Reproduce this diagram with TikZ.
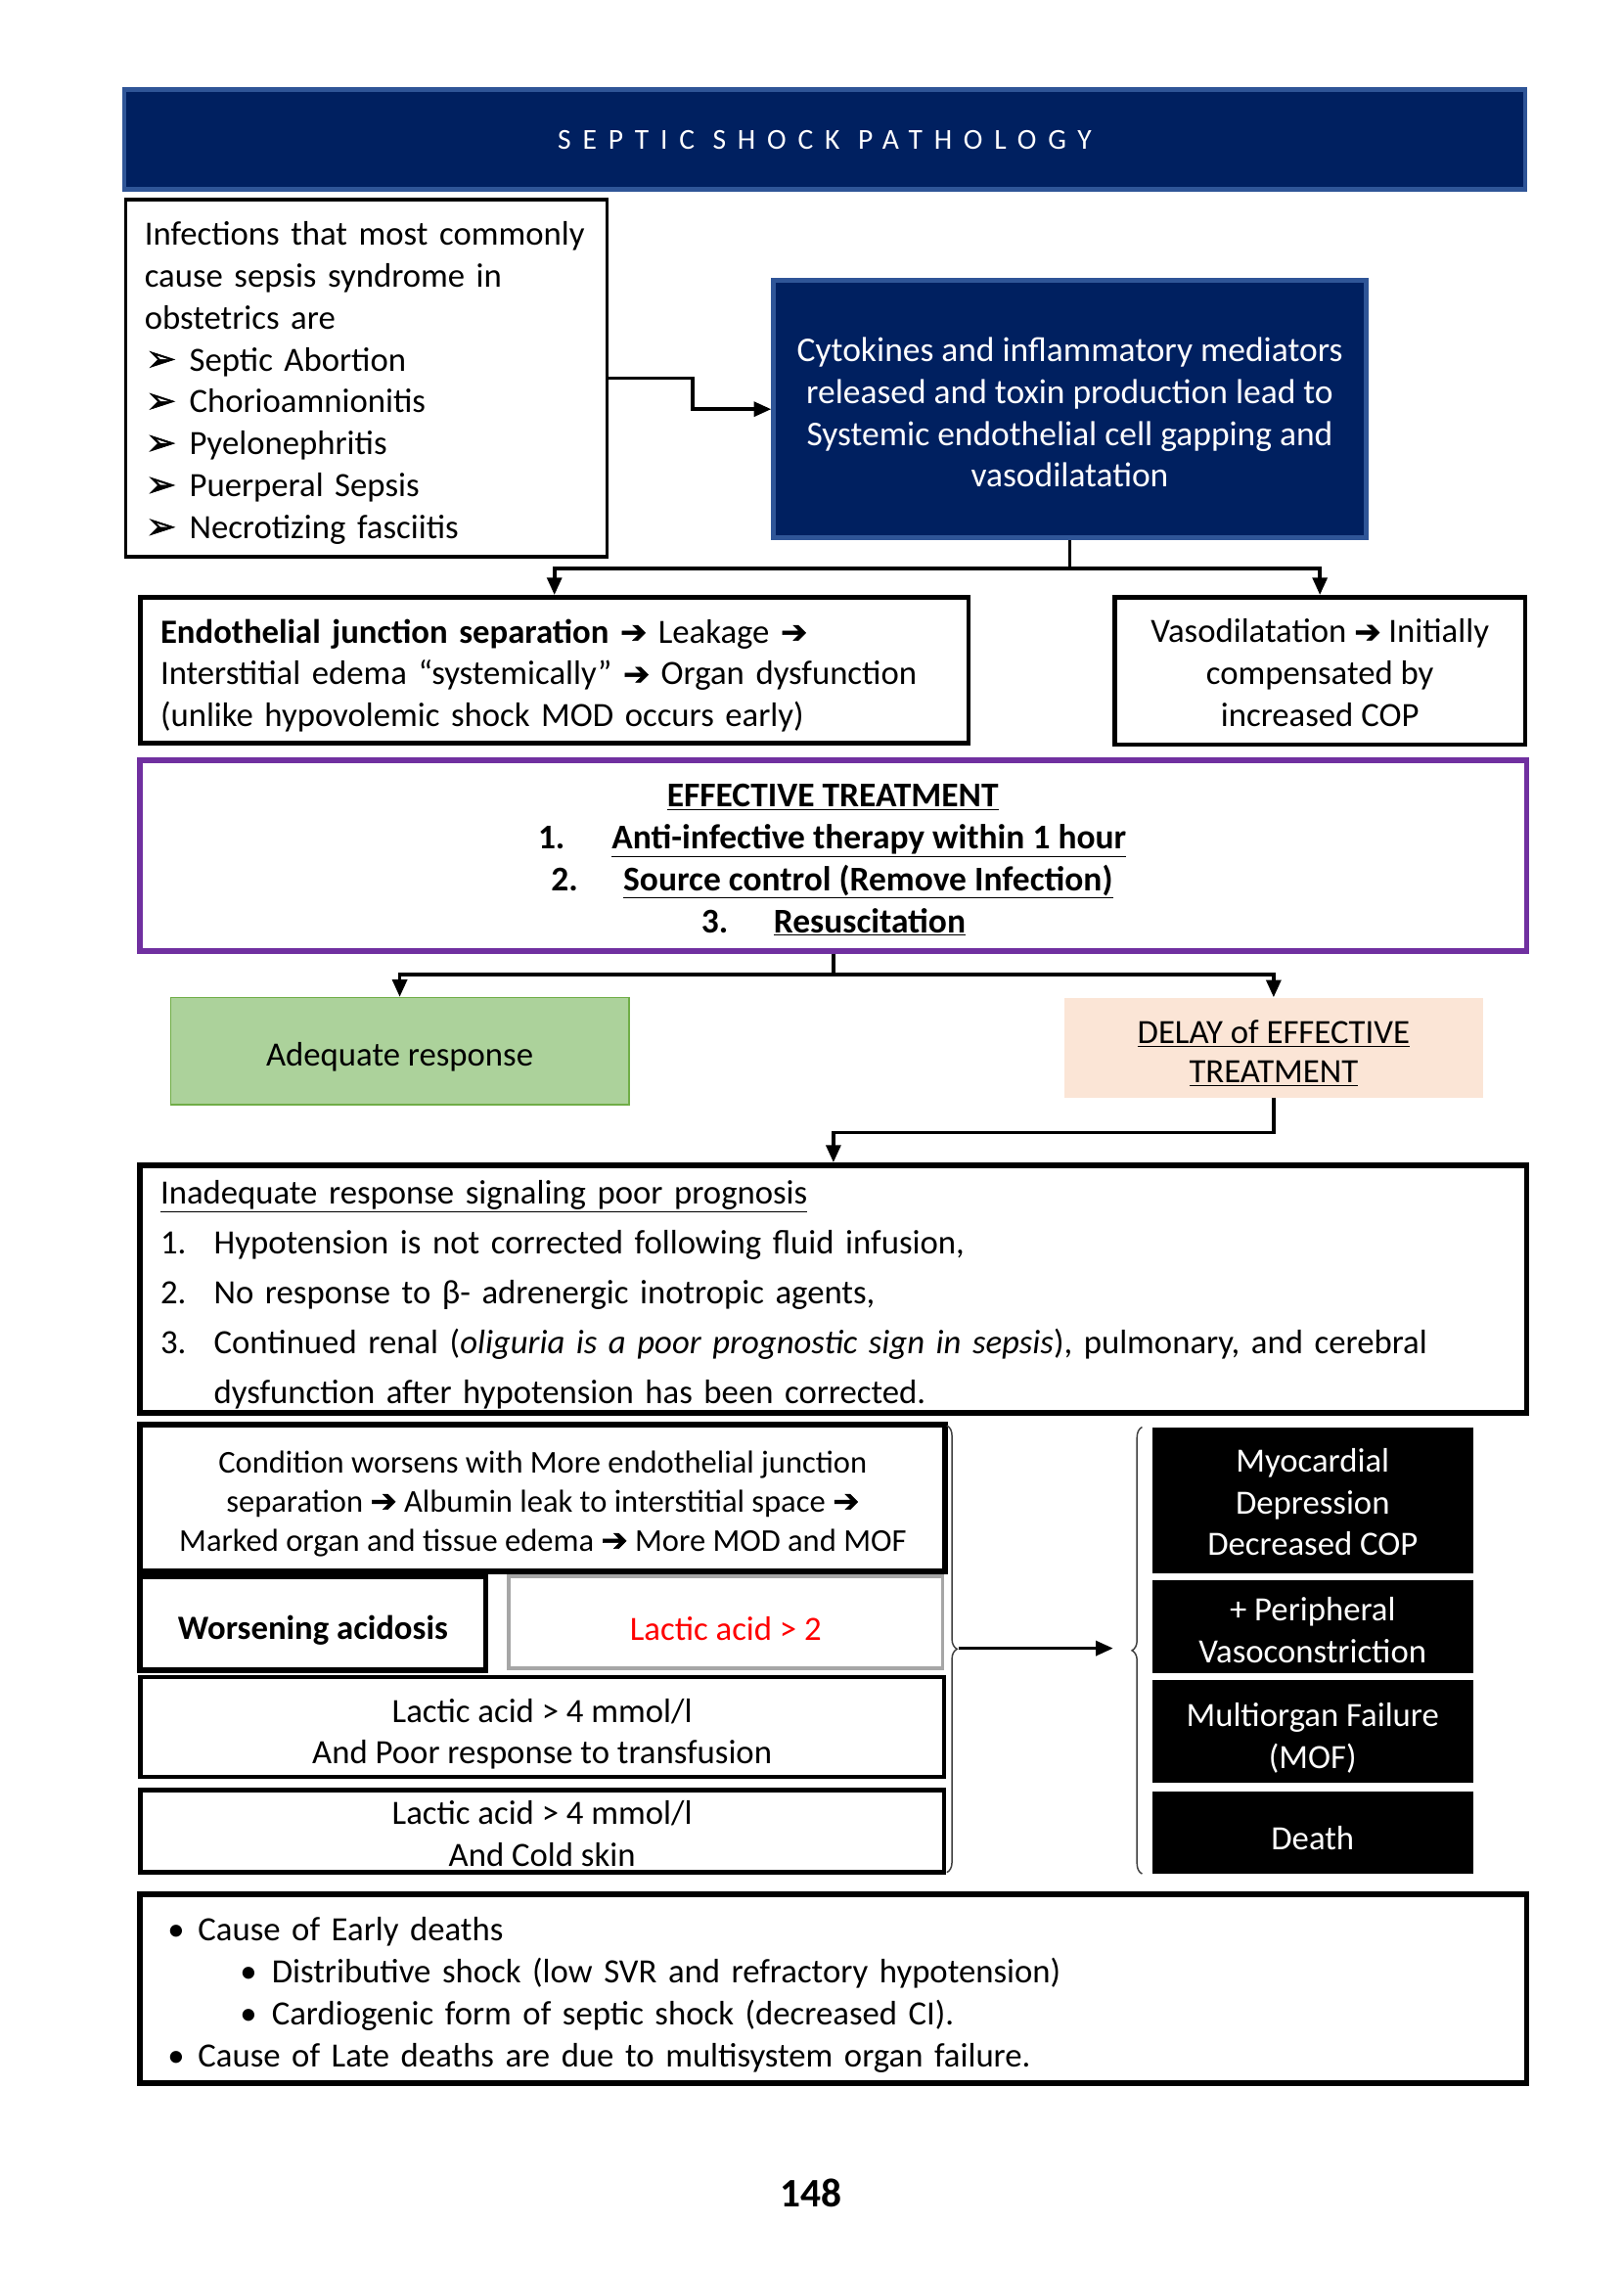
\documentclass[tikz,border=0pt]{standalone}
\usepackage{fontspec}
\setmainfont{Carlito}
\newfontfamily\symf{DejaVu Sans}
\newfontfamily\symfb[FakeBold=1.5]{DejaVu Sans}
\newfontfamily\titlef[LetterSpace=40]{Carlito}
\usetikzlibrary{arrows.meta,decorations.pathreplacing,calc}
\definecolor{navy}{HTML}{002060}
\definecolor{navyedge}{HTML}{2F5597}
\definecolor{purp}{HTML}{7030A0}
\definecolor{grn}{HTML}{ACD29B}
\definecolor{grnedge}{HTML}{70AD47}
\definecolor{peach}{HTML}{FBE5D6}
\definecolor{gry}{HTML}{A6A6A6}
\definecolor{redtxt}{HTML}{FF0000}
\newcommand{\myarr}{{\symfb\fontsize{22}{20}\selectfont\char"2794}}
\newcommand{\mybul}{\makebox[31pt][l]{\hspace{1pt}{\symfb\fontsize{25}{20}\selectfont\char"27A2}}}
\newcommand{\upr}[1]{\rule{0pt}{#1pt}}
\begin{document}
\begin{tikzpicture}[x=1pt,y=-1pt,
  every node/.style={font=\fontsize{23.5}{29}\selectfont},
  box/.style={draw=black,line width=3pt,inner sep=0pt},
  navybox/.style={draw=navyedge,fill=navy,line width=3pt,inner sep=0pt,text=white},
  blackbox/.style={fill=black,inner sep=0pt,text=white,minimum width=222pt,align=center},
  arr/.style={line width=2.5pt,-{Triangle[length=12pt,width=10pt]}},
  ln/.style={line width=2.5pt},
  brc/.style={decorate,decoration={brace,amplitude=7pt},line width=1pt,draw=black!75}]
\useasboundingbox[fill=white] (0,0) rectangle (1123,1570);

% title
\node[navybox,minimum width=969pt,minimum height=69pt,font=\titlef\fontsize{20}{22}\selectfont] (title) at (570.5,96.5) {SEPTIC SHOCK PATHOLOGY};

% infections
\node[box,line width=2.5pt,minimum width=333pt,minimum height=247pt,text width=307pt,align=left] (inf) at (253.5,261.5)
 {\upr{23}Infections that most commonly\\cause sepsis syndrome in\\obstetrics are\\\mybul Septic Abortion\\\mybul Chorioamnionitis\\\mybul Pyelonephritis\\\mybul Puerperal Sepsis\\\mybul Necrotizing fasciitis};

% cytokines
\node[navybox,minimum width=410pt,minimum height=178pt,align=center,font=\fontsize{24}{29}\selectfont] (cyto) at (740,283)
 {\upr{21}Cytokines and inflammatory mediators\\released and toxin production lead to\\Systemic endothelial cell gapping and\\vasodilatation};

% endothelial
\node[box,minimum width=573pt,minimum height=101pt,text width=545pt,align=left] (endo) at (383.5,463.5)
 {\upr{24}\textbf{Endothelial junction separation} \myarr{} Leakage \myarr\\Interstitial edema “systemically” \myarr{} Organ dysfunction\\(unlike hypovolemic shock MOD occurs early)};

% vasodilatation
\node[box,minimum width=284pt,minimum height=102pt,align=center] (vaso) at (913,464)
 {\upr{19}Vasodilatation \myarr{} Initially\\compensated by\\increased COP};

% effective treatment
\node[box,draw=purp,line width=4pt,minimum width=959pt,minimum height=132pt] (treat) at (576.5,592) {};
\node[inner sep=0pt,anchor=base,font=\fontsize{24}{29}\selectfont] (th) at (576,558) {\textbf{\underline{EFFECTIVE TREATMENT}}};
\node[inner sep=0pt,anchor=base west,font=\fontsize{24}{29}\selectfont] (t1n) at (372,587) {\textbf{1.}};
\node[inner sep=0pt,anchor=base west,font=\fontsize{24}{29}\selectfont] (t1) at (423,587) {\textbf{\underline{Anti-infective therapy within 1 hour}}};
\node[inner sep=0pt,anchor=base west,font=\fontsize{24}{29}\selectfont] (t2n) at (381,616) {\textbf{2.}};
\node[inner sep=0pt,anchor=base west,font=\fontsize{24}{29}\selectfont] (t2) at (431,616) {\textbf{\underline{Source control (Remove Infection)}}};
\node[inner sep=0pt,anchor=base west,font=\fontsize{24}{29}\selectfont] (t3n) at (485,645) {\textbf{3.}};
\node[inner sep=0pt,anchor=base west,font=\fontsize{24}{29}\selectfont] (t3) at (535,645) {\textbf{\underline{Resuscitation}}};

% adequate / delay
\node[draw=grnedge,fill=grn,line width=1pt,minimum width=317pt,minimum height=74pt,inner sep=0pt] (adeq) at (276.5,727) {\upr{25}Adequate response};
\node[fill=peach,minimum width=290pt,minimum height=69pt,inner sep=0pt,align=center,font=\fontsize{23.5}{27}\selectfont] (delay) at (881,724.5)
 {\upr{24}\underline{DELAY of EFFECTIVE}\\\underline{TREATMENT}};

% inadequate
\node[box,line width=4pt,minimum width=959pt,minimum height=171pt,text width=931pt,align=left,font=\fontsize{23.5}{34.5}\selectfont] (inad) at (576.5,891.5)
 {\upr{24}\underline{Inadequate response signaling poor prognosis}\\
  \makebox[37pt][l]{1.}Hypotension is not corrected following fluid infusion,\\
  \makebox[37pt][l]{2.}No response to β- adrenergic inotropic agents,\\
  \makebox[37pt][l]{3.}Continued renal (\textit{oliguria is a poor prognostic sign in sepsis}), pulmonary, and cerebral\\
  \hspace*{37pt}dysfunction after hypotension has been corrected.};

% left column
\node[box,line width=4pt,minimum width=557pt,minimum height=102pt,align=center,font=\fontsize{22}{27}\selectfont] (cond) at (375.5,1036)
 {\upr{23}Condition worsens with More endothelial junction\\separation \myarr{} Albumin leak to interstitial space \myarr\\Marked organ and tissue edema \myarr{} More MOD and MOF};
\node[box,line width=4pt,minimum width=239pt,minimum height=65pt] (worse) at (216.5,1122.5) {\upr{26}\textbf{Worsening acidosis}};
\node[box,draw=gry,line width=2.5pt,minimum width=300pt,minimum height=64pt,text=redtxt] (lac2) at (502,1122) {\upr{25}Lactic acid > 2};
\node[box,minimum width=556pt,minimum height=69pt,align=center] (lac4a) at (375,1194.5) {\upr{26}Lactic acid > 4 mmol/l\\And Poor response to transfusion};
\node[box,minimum width=556pt,minimum height=57pt,align=center] (lac4b) at (375,1266.5) {\upr{20}Lactic acid > 4 mmol/l\\And Cold skin};

% right column
\node[blackbox,minimum height=101pt] (myo) at (908,1037.5) {\upr{19}Myocardial\\Depression\\Decreased COP};
\node[blackbox,minimum height=64pt] (peri) at (908,1125) {\upr{21}+ Peripheral\\Vasoconstriction};
\node[blackbox,minimum height=71pt] (mof) at (908,1197.5) {\upr{25}Multiorgan Failure\\(MOF)};
\node[blackbox,minimum height=57pt] (death) at (908,1267.5) {\upr{24}Death};

% braces
\coordinate (lbt) at (655,986);
\coordinate (lbb) at (655,1295);
\coordinate (rbt) at (790,987);
\coordinate (rbb) at (790,1296);
\coordinate (ltip) at (663,1140);
\coordinate (rtip) at (770,1140);
\draw[brc] (lbt) -- (lbb);
\draw[brc] (rbb) -- (rbt);
\draw[arr] (ltip) -- (rtip);

% bottom box
\node[box,line width=4pt,minimum width=959pt,minimum height=131pt,text width=921pt,align=left] (bottom) at (576.5,1375.5)
 {\upr{25}\makebox[21pt][l]{•}Cause of Early deaths\\
  \hspace*{50pt}\makebox[22pt][l]{•}Distributive shock (low SVR and refractory hypotension)\\
  \hspace*{50pt}\makebox[22pt][l]{•}Cardiogenic form of septic shock (decreased CI).\\
  \makebox[21pt][l]{•}Cause of Late deaths are due to multisystem organ failure.};

\node[font=\fontsize{28}{30}\selectfont\bfseries] (page) at (561,1517) {148};

% connectors
\draw[arr] (inf.east) -- ++(58,0) |- (cyto.west);
\coordinate (s1) at (cyto.south |- 0,393);
\draw[ln] (cyto.south) -- (s1);
\draw[arr] (s1) -| (endo.north);
\draw[arr] (s1) -| (vaso.north);
\coordinate (s2) at (treat.south |- 0,674);
\draw[ln] (treat.south) -- (s2);
\draw[arr] (s2) -| (adeq.north);
\draw[arr] (s2) -| (delay.north);
\draw[arr] (delay.south) -- ++(0,24) -| (inad.north);
\end{tikzpicture}
\end{document}
